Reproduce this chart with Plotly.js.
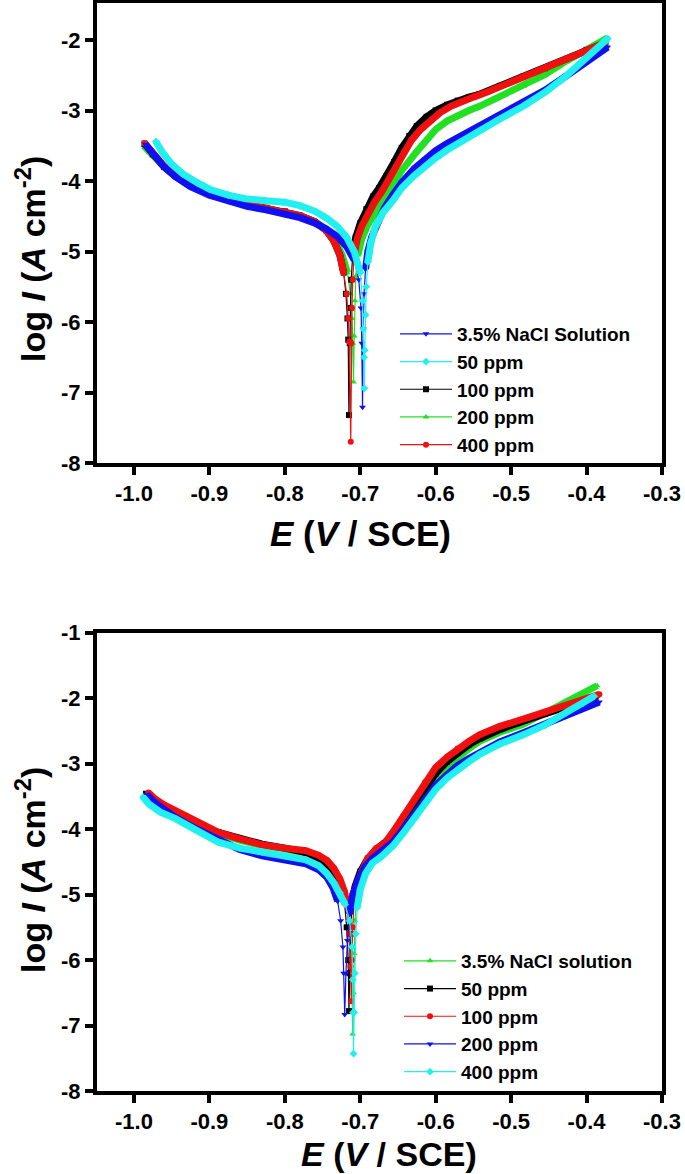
<!DOCTYPE html>
<html><head><meta charset="utf-8">
<script src="https://cdn.plot.ly/plotly-3.0.1.min.js"></script>
<style>html,body{margin:0;padding:0;background:#fff}</style>
</head><body><div id="chart" style="width:685px;height:1174px"></div>
<script>
// ---------- tick labels ----------
const X_TICKS = [-1.0, -0.9, -0.8, -0.7, -0.6, -0.5, -0.4, -0.3];
const X_TICK_TEXT = ['-1.0', '-0.9', '-0.8', '-0.7', '-0.6', '-0.5', '-0.4', '-0.3'];
const Y_TICKS = [-1, -2, -3, -4, -5, -6, -7, -8];
const Y_TICK_TEXT = ['-1', '-2', '-3', '-4', '-5', '-6', '-7', '-8'];
const X_TITLE = '<i>E</i> (<i>V</i> / SCE)';
const Y_TITLE = 'log <i>I</i> (<i>A</i> cm<sup>-2</sup>)';

// ---------- top panel series ----------
const TOP_NAMES = ['3.5% NaCl Solution', '50 ppm', '100 ppm', '200 ppm', '400 ppm'];

const TOP_E_NACL = [-0.985,-0.975,-0.960,-0.945,-0.925,-0.900,-0.875,-0.850,-0.825,-0.800,-0.780,-0.760,-0.745,-0.730,-0.718,-0.708,-0.702,-0.699,-0.698,-0.697,
  -0.696,-0.695,-0.693,-0.690,-0.685,-0.678,-0.668,-0.657,-0.645,-0.628,-0.614,-0.600,-0.585,-0.571,-0.556,-0.542,-0.515,-0.484,-0.455,-0.427,-0.400,-0.372];
const TOP_I_NACL = [-3.48,-3.62,-3.80,-3.94,-4.08,-4.20,-4.29,-4.36,-4.41,-4.46,-4.52,-4.60,-4.68,-4.79,-4.93,-5.12,-5.40,-5.80,-6.30,-7.21,
  -6.10,-5.60,-5.25,-5.00,-4.80,-4.60,-4.38,-4.20,-4.02,-3.82,-3.69,-3.57,-3.47,-3.39,-3.30,-3.22,-3.06,-2.89,-2.71,-2.51,-2.30,-2.10];

const TOP_E_50 = [-0.971,-0.962,-0.950,-0.935,-0.915,-0.899,-0.875,-0.853,-0.825,-0.800,-0.780,-0.760,-0.744,-0.730,-0.718,-0.708,-0.700,-0.697,-0.696,-0.695,-0.6946,
  -0.694,-0.693,-0.692,-0.690,-0.686,-0.680,-0.670,-0.657,-0.645,-0.628,-0.614,-0.600,-0.585,-0.571,-0.556,-0.542,-0.515,-0.484,-0.455,-0.427,-0.400,-0.372];
const TOP_I_50 = [-3.44,-3.60,-3.76,-3.90,-4.03,-4.12,-4.20,-4.25,-4.28,-4.30,-4.35,-4.43,-4.53,-4.65,-4.80,-5.00,-5.30,-5.70,-6.10,-6.50,-6.94,
  -6.40,-5.90,-5.50,-5.15,-4.88,-4.65,-4.45,-4.28,-4.10,-3.92,-3.79,-3.67,-3.56,-3.47,-3.38,-3.29,-3.12,-2.94,-2.74,-2.51,-2.25,-1.98];

const TOP_E_100 = [-0.986,-0.975,-0.960,-0.945,-0.925,-0.900,-0.875,-0.850,-0.825,-0.800,-0.780,-0.760,-0.745,-0.735,-0.727,-0.722,-0.719,-0.717,-0.716,-0.715,
  -0.714,-0.713,-0.712,-0.710,-0.706,-0.700,-0.692,-0.683,-0.675,-0.665,-0.655,-0.645,-0.635,-0.625,-0.612,-0.600,-0.585,-0.571,-0.556,-0.542,-0.515,-0.484,-0.455,-0.427,-0.400,-0.375];
const TOP_I_100 = [-3.47,-3.62,-3.80,-3.93,-4.07,-4.18,-4.27,-4.33,-4.38,-4.43,-4.49,-4.58,-4.70,-4.85,-5.05,-5.30,-5.60,-5.95,-6.25,-7.32,
  -6.30,-5.80,-5.40,-5.05,-4.80,-4.60,-4.40,-4.22,-4.10,-3.93,-3.73,-3.53,-3.36,-3.22,-3.09,-3.00,-2.92,-2.86,-2.81,-2.77,-2.65,-2.52,-2.40,-2.27,-2.14,-2.04];

const TOP_E_200 = [-0.987,-0.975,-0.960,-0.945,-0.925,-0.900,-0.875,-0.850,-0.825,-0.800,-0.780,-0.760,-0.745,-0.733,-0.724,-0.717,-0.713,-0.711,-0.710,-0.709,
  -0.708,-0.707,-0.706,-0.703,-0.698,-0.690,-0.675,-0.660,-0.645,-0.628,-0.614,-0.600,-0.585,-0.571,-0.556,-0.542,-0.515,-0.484,-0.455,-0.427,-0.400,-0.372];
const TOP_I_200 = [-3.50,-3.64,-3.80,-3.93,-4.07,-4.18,-4.27,-4.34,-4.39,-4.44,-4.50,-4.58,-4.68,-4.85,-5.05,-5.30,-5.60,-5.95,-6.30,-6.85,
  -6.20,-5.70,-5.35,-5.05,-4.82,-4.62,-4.35,-4.08,-3.85,-3.62,-3.43,-3.27,-3.15,-3.07,-3.00,-2.94,-2.80,-2.66,-2.49,-2.30,-2.13,-1.97];

const TOP_E_400 = [-0.986,-0.975,-0.960,-0.945,-0.925,-0.900,-0.875,-0.850,-0.825,-0.800,-0.780,-0.760,-0.745,-0.735,-0.727,-0.722,-0.718,-0.716,-0.7145,-0.7126,
  -0.712,-0.711,-0.710,-0.708,-0.704,-0.698,-0.690,-0.681,-0.672,-0.662,-0.652,-0.642,-0.632,-0.620,-0.607,-0.594,-0.580,-0.566,-0.550,-0.530,-0.505,-0.480,-0.455,-0.427,-0.400,-0.375];
const TOP_I_400 = [-3.46,-3.61,-3.79,-3.93,-4.07,-4.18,-4.27,-4.33,-4.38,-4.43,-4.49,-4.58,-4.70,-4.85,-5.05,-5.30,-5.60,-5.95,-6.28,-7.70,
  -6.30,-5.80,-5.40,-5.05,-4.82,-4.64,-4.46,-4.30,-4.16,-3.98,-3.78,-3.58,-3.42,-3.27,-3.14,-3.03,-2.94,-2.87,-2.81,-2.73,-2.62,-2.50,-2.39,-2.26,-2.14,-2.04];

// ---------- bottom panel series ----------
const BOT_NAMES = ['3.5% NaCl solution', '50 ppm', '100 ppm', '200 ppm', '400 ppm'];

const BOT_E_NACL = [-0.988,-0.980,-0.965,-0.945,-0.920,-0.888,-0.860,-0.830,-0.800,-0.772,-0.755,-0.744,-0.735,-0.726,-0.719,-0.714,-0.712,-0.711,-0.710,
  -0.709,-0.708,-0.707,-0.705,-0.700,-0.692,-0.680,-0.668,-0.657,-0.643,-0.628,-0.614,-0.600,-0.585,-0.571,-0.556,-0.542,-0.515,-0.484,-0.455,-0.427,-0.405,-0.386];
const BOT_I_NACL = [-3.51,-3.58,-3.70,-3.80,-3.93,-4.07,-4.17,-4.25,-4.30,-4.37,-4.47,-4.58,-4.72,-4.90,-5.10,-5.40,-5.80,-6.30,-7.13,
  -6.50,-5.90,-5.40,-5.05,-4.80,-4.58,-4.40,-4.28,-4.15,-3.95,-3.72,-3.46,-3.24,-3.05,-2.91,-2.77,-2.66,-2.52,-2.40,-2.23,-2.05,-1.92,-1.81];

const BOT_E_50 = [-0.984,-0.975,-0.960,-0.945,-0.920,-0.888,-0.860,-0.830,-0.800,-0.772,-0.755,-0.744,-0.735,-0.727,-0.721,-0.718,-0.716,-0.715,
  -0.714,-0.713,-0.711,-0.707,-0.700,-0.690,-0.678,-0.668,-0.657,-0.643,-0.628,-0.614,-0.600,-0.585,-0.571,-0.556,-0.542,-0.515,-0.484,-0.455,-0.427,-0.405,-0.388];
const BOT_I_50 = [-3.46,-3.56,-3.67,-3.76,-3.90,-4.05,-4.15,-4.23,-4.29,-4.36,-4.46,-4.56,-4.70,-4.88,-5.10,-5.50,-6.00,-6.78,
  -6.20,-5.60,-5.15,-4.88,-4.65,-4.45,-4.30,-4.22,-4.11,-3.88,-3.63,-3.37,-3.15,-2.97,-2.83,-2.71,-2.62,-2.48,-2.35,-2.24,-2.13,-2.05,-1.98];

const BOT_E_100 = [-0.981,-0.972,-0.960,-0.945,-0.920,-0.888,-0.860,-0.830,-0.800,-0.772,-0.755,-0.744,-0.735,-0.727,-0.721,-0.717,-0.715,-0.713,-0.712,
  -0.711,-0.710,-0.708,-0.704,-0.698,-0.690,-0.679,-0.668,-0.657,-0.643,-0.628,-0.614,-0.600,-0.585,-0.571,-0.556,-0.542,-0.515,-0.484,-0.455,-0.427,-0.405,-0.383];
const BOT_I_100 = [-3.44,-3.54,-3.63,-3.72,-3.88,-4.05,-4.15,-4.24,-4.29,-4.33,-4.40,-4.48,-4.60,-4.76,-4.95,-5.20,-5.60,-6.10,-6.63,
  -6.00,-5.50,-5.10,-4.85,-4.65,-4.45,-4.30,-4.22,-4.05,-3.80,-3.54,-3.28,-3.06,-2.90,-2.77,-2.66,-2.56,-2.43,-2.32,-2.21,-2.11,-2.02,-1.94];

const BOT_E_200 = [-0.983,-0.975,-0.960,-0.945,-0.920,-0.888,-0.860,-0.830,-0.800,-0.772,-0.755,-0.744,-0.736,-0.730,-0.726,-0.723,-0.722,-0.7206,
  -0.719,-0.717,-0.714,-0.710,-0.703,-0.694,-0.684,-0.672,-0.657,-0.643,-0.628,-0.614,-0.600,-0.585,-0.571,-0.556,-0.542,-0.515,-0.484,-0.455,-0.427,-0.405,-0.383];
const BOT_I_200 = [-3.47,-3.57,-3.70,-3.82,-3.98,-4.17,-4.31,-4.41,-4.47,-4.53,-4.62,-4.74,-4.90,-5.10,-5.40,-5.80,-6.20,-6.83,
  -6.20,-5.70,-5.30,-5.00,-4.78,-4.58,-4.45,-4.35,-4.20,-4.00,-3.78,-3.54,-3.33,-3.17,-3.03,-2.92,-2.83,-2.67,-2.53,-2.39,-2.26,-2.16,-2.06];

const BOT_E_400 = [-0.988,-0.980,-0.965,-0.945,-0.920,-0.888,-0.860,-0.830,-0.800,-0.772,-0.755,-0.744,-0.735,-0.727,-0.720,-0.714,-0.711,-0.710,-0.7095,-0.709,
  -0.708,-0.707,-0.706,-0.704,-0.700,-0.693,-0.684,-0.672,-0.657,-0.643,-0.628,-0.614,-0.600,-0.585,-0.571,-0.556,-0.542,-0.515,-0.484,-0.455,-0.427,-0.405,-0.390];
const BOT_I_400 = [-3.51,-3.62,-3.74,-3.84,-4.00,-4.20,-4.29,-4.35,-4.40,-4.47,-4.56,-4.68,-4.82,-4.97,-5.15,-5.40,-5.80,-6.30,-6.80,-7.43,
  -6.80,-6.20,-5.60,-5.20,-4.92,-4.68,-4.52,-4.42,-4.26,-4.06,-3.84,-3.60,-3.39,-3.22,-3.09,-2.97,-2.86,-2.70,-2.56,-2.41,-2.22,-2.08,-1.97];

// ---------- styling ----------
const COL = {blue:'#1010f0', cyan:'#22f0f0', black:'#000000', green:'#22e022', red:'#f01010'};
const BAND_MIN = -5.3;   // dense part of curve drawn as thick band
const FONT = 'Liberation Sans, Arial, Helvetica, sans-serif';

const traces = [];
function addSeries(E, I, name, color, symbol, xa, ya, legendId, rank) {
  traces.push({x:E, y:I.map(v => v >= BAND_MIN ? v : null), xaxis:xa, yaxis:ya,
    type:'scatter', mode:'lines', connectgaps:false, showlegend:false, hoverinfo:'skip',
    line:{color:color, width:7}});
  traces.push({x:E, y:I, xaxis:xa, yaxis:ya, type:'scatter', mode:'lines+markers',
    name:name, legend:legendId, legendrank:rank, line:{color:color, width:1.2},
    marker:{symbol:symbol, size:6, color:color}});
}
// top panel: drawing order puts blank/50 ppm on top, legend order via legendrank
addSeries(TOP_E_200,  TOP_I_200,  TOP_NAMES[3], COL.green, 'triangle-up', 'x', 'y', 'legend', 4);
addSeries(TOP_E_100,  TOP_I_100,  TOP_NAMES[2], COL.black, 'square', 'x', 'y', 'legend', 3);
addSeries(TOP_E_400,  TOP_I_400,  TOP_NAMES[4], COL.red, 'circle', 'x', 'y', 'legend', 5);
addSeries(TOP_E_NACL, TOP_I_NACL, TOP_NAMES[0], COL.blue, 'triangle-down', 'x', 'y', 'legend', 1);
addSeries(TOP_E_50,   TOP_I_50,   TOP_NAMES[1], COL.cyan, 'diamond', 'x', 'y', 'legend', 2);

addSeries(BOT_E_NACL, BOT_I_NACL, BOT_NAMES[0], COL.green, 'triangle-up', 'x2', 'y2', 'legend2', 1);
addSeries(BOT_E_50,   BOT_I_50,   BOT_NAMES[1], COL.black, 'square', 'x2', 'y2', 'legend2', 2);
addSeries(BOT_E_100,  BOT_I_100,  BOT_NAMES[2], COL.red, 'circle', 'x2', 'y2', 'legend2', 3);
addSeries(BOT_E_200,  BOT_I_200,  BOT_NAMES[3], COL.blue, 'triangle-down', 'x2', 'y2', 'legend2', 4);
addSeries(BOT_E_400,  BOT_I_400,  BOT_NAMES[4], COL.cyan, 'diamond', 'x2', 'y2', 'legend2', 5);

const W = 685, H = 1174;
const bold = s => '<b>' + s + '</b>';
const tickFont = {family:FONT, size:22, color:'#000', weight:'bold'};
function xAxis(anchor) {
  return {anchor:anchor, domain:[97/W, 662/W], range:[-1.049, -0.3],
    tickvals:X_TICKS, ticktext:X_TICK_TEXT.map(bold), ticks:'outside', ticklen:8, tickwidth:4, tickcolor:'#000',
    showline:true, linewidth:4, linecolor:'#000', mirror:true, showgrid:false, zeroline:false,
    tickfont:tickFont, automargin:false};
}
function yAxis(anchor, domain, range) {
  return {anchor:anchor, domain:domain, range:range,
    tickvals:Y_TICKS, ticktext:Y_TICK_TEXT.map(bold), ticks:'outside', ticklen:8, tickwidth:4, tickcolor:'#000',
    showline:true, linewidth:4, linecolor:'#000', mirror:true, showgrid:false, zeroline:false,
    tickfont:tickFont, automargin:false};
}
function title(text, xpx, ypx, angle, size) {
  return {text:bold(text), xref:'paper', yref:'paper', x:xpx/W, y:1-ypx/H, xanchor:'center', yanchor:'middle',
    showarrow:false, textangle:angle, font:{family:FONT, size:size, color:'#000', weight:'bold'}};
}
const legFont = {family:FONT, size:19, color:'#000', weight:'bold'};
const layout = {
  width:W, height:H, margin:{l:0, r:0, t:0, b:0}, paper_bgcolor:'#fff', plot_bgcolor:'#fff',
  showlegend:true,
  xaxis: xAxis('y'),
  yaxis: yAxis('x', [(H-463)/H, (H-3)/H], [-8, -1.475]),
  xaxis2: xAxis('y2'),
  yaxis2: yAxis('x2', [(H-1091)/H, (H-632.7)/H], [-8, -1]),
  annotations: [
    title(X_TITLE, 360, 533, 0, 35),
    title(Y_TITLE, 30, 259, -90, 34),
    title(X_TITLE, 389, 1154, 0, 34),
    title(Y_TITLE, 30, 870, -90, 34)
  ],
  legend: {x:395/W, xanchor:'left', y:1-315/H, yanchor:'top', font:legFont, bgcolor:'rgba(0,0,0,0)',
    borderwidth:0, itemwidth:52, tracegroupgap:0},
  legend2: {x:399/W, xanchor:'left', y:1-942/H, yanchor:'top', font:legFont, bgcolor:'rgba(0,0,0,0)',
    borderwidth:0, itemwidth:52, tracegroupgap:0}
};
Plotly.newPlot('chart', traces, layout, {displayModeBar:false, staticPlot:true});
</script></body></html>
